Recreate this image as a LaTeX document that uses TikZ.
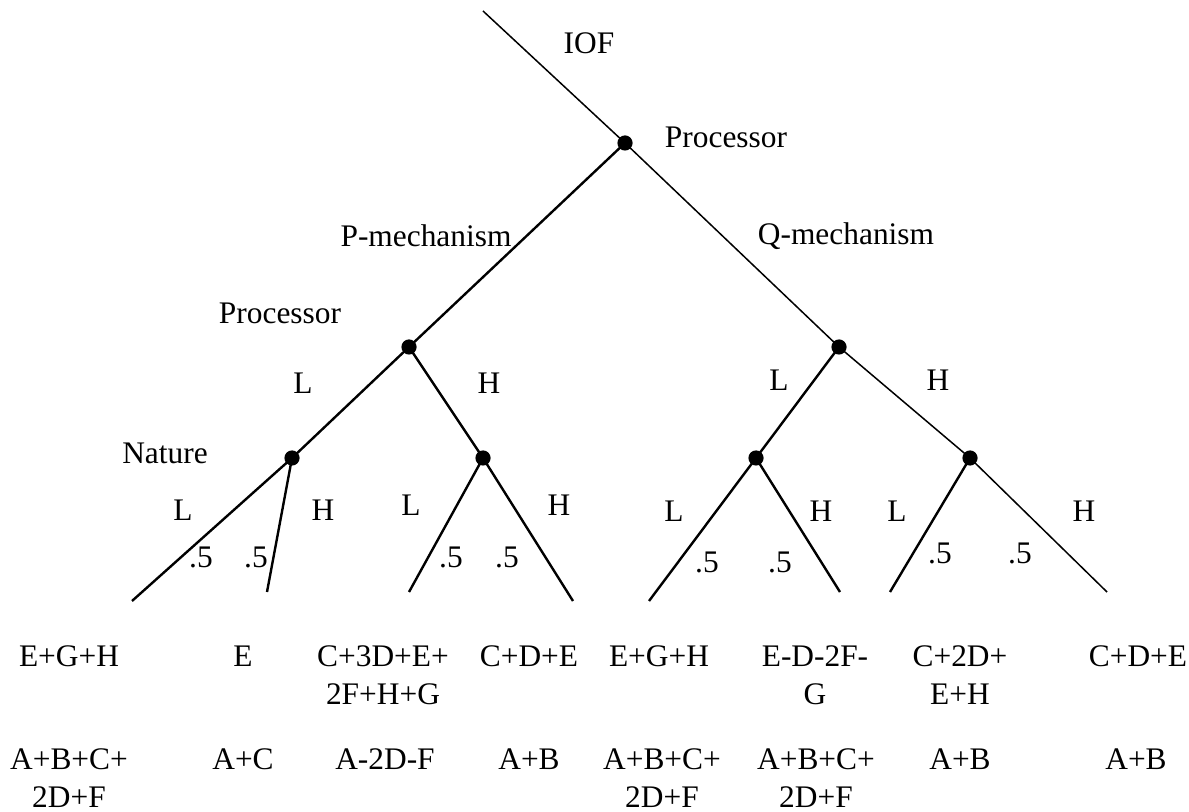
\documentclass[tikz,border=0pt]{standalone}
\usepackage{fontspec}
\setmainfont{Liberation Serif}
\begin{document}
\begin{tikzpicture}[x=0.5pt,y=-0.5pt,
  dot/.style={circle,fill=black,inner sep=0pt,minimum size=7.6pt},
  lab/.style={inner sep=0pt,font=\fontsize{15.7}{19}\selectfont},
  pay/.style={inner sep=0pt,align=center,font=\fontsize{15.7}{19}\selectfont},
  thinb/.style={line width=0.75pt},
  thickb/.style={line width=1.2pt}]
\useasboundingbox (0,0) rectangle (1189,812);
% decision nodes
\coordinate (start) at (483,11);
\node[dot] (root) at (625,143) {};
\node[dot] (P) at (409,347) {};
\node[dot] (Q) at (839,347) {};
\node[dot] (N1) at (292,458) {};
\node[dot] (N2) at (483,458) {};
\node[dot] (N3) at (756,458) {};
\node[dot] (N4) at (970,458) {};
% leaves
\coordinate (l1) at (132,601);
\coordinate (l2) at (267,592);
\coordinate (l3) at (409,592);
\coordinate (l4) at (573,601);
\coordinate (l5) at (649,601);
\coordinate (l6) at (840,592);
\coordinate (l7) at (890,592);
\coordinate (l8) at (1107,592);
% branches
\draw[thinb] (start) -- (root.center);
\draw[thickb] (root.center) -- (P.center);
\draw[thinb] (root.center) -- (Q.center);
\draw[thickb] (P.center) -- (N1.center);
\draw[thickb] (P.center) -- (N2.center);
\draw[thickb] (Q.center) -- (N3.center);
\draw[thinb] (Q.center) -- (N4.center);
\draw[thickb] (N1.center) -- (l1);
\draw[thickb] (N1.center) -- (l2);
\draw[thickb] (N2.center) -- (l3);
\draw[thickb] (N2.center) -- (l4);
\draw[thickb] (N3.center) -- (l5);
\draw[thickb] (N3.center) -- (l6);
\draw[thickb] (N4.center) -- (l7);
\draw[thinb] (N4.center) -- (l8);
% labels
\node[lab] (tIOF) at (589,43) {IOF};
\node[lab] (tProc1) at (726,137) {Processor};
\node[lab] (tPm) at (426,236) {P-mechanism};
\node[lab] (tQm) at (846,236) {Q-mechanism};
\node[lab] (tProc2) at (280,313) {Processor};
\node[lab] (tPL) at (303,383) {L};
\node[lab] (tPH) at (489,383) {H};
\node[lab] (tQL) at (779,380) {L};
\node[lab] (tQH) at (938,380) {H};
\node[lab] (tNat) at (165,453) {Nature};
\node[lab] (a1) at (183,510) {L};
\node[lab] (a2) at (323,510) {H};
\node[lab] (a3) at (201,557) {.5};
\node[lab] (a4) at (256,557) {.5};
\node[lab] (b1) at (411,505) {L};
\node[lab] (b2) at (559,505) {H};
\node[lab] (b3) at (451,557) {.5};
\node[lab] (b4) at (507,557) {.5};
\node[lab] (c1) at (674,511) {L};
\node[lab] (c2) at (821,511) {H};
\node[lab] (c3) at (707,562) {.5};
\node[lab] (c4) at (780,562) {.5};
\node[lab] (d1) at (897,511) {L};
\node[lab] (d2) at (1084,511) {H};
\node[lab] (d3) at (940,553) {.5};
\node[lab] (d4) at (1020,553) {.5};
% payoffs row 1
\node[pay] (p11) at (69,656) {E+G+H};
\node[pay] (p12) at (243,656) {E};
\node[pay] (p13) at (383,675) {C+3D+E+\\2F+H+G};
\node[pay] (p14) at (529,656) {C+D+E};
\node[pay] (p15) at (659,656) {E+G+H};
\node[pay] (p16) at (815,675) {E-D-2F-\\G};
\node[pay] (p17) at (960,675) {C+2D+\\E+H};
\node[pay] (p18) at (1138,656) {C+D+E};
% payoffs row 2
\node[pay] (p21) at (69,778) {A+B+C+\\2D+F};
\node[pay] (p22) at (243,759) {A+C};
\node[pay] (p23) at (385,759) {A-2D-F};
\node[pay] (p24) at (529,759) {A+B};
\node[pay] (p25) at (662,778) {A+B+C+\\2D+F};
\node[pay] (p26) at (816,778) {A+B+C+\\2D+F};
\node[pay] (p27) at (960,759) {A+B};
\node[pay] (p28) at (1136,759) {A+B};
\end{tikzpicture}
\end{document}
